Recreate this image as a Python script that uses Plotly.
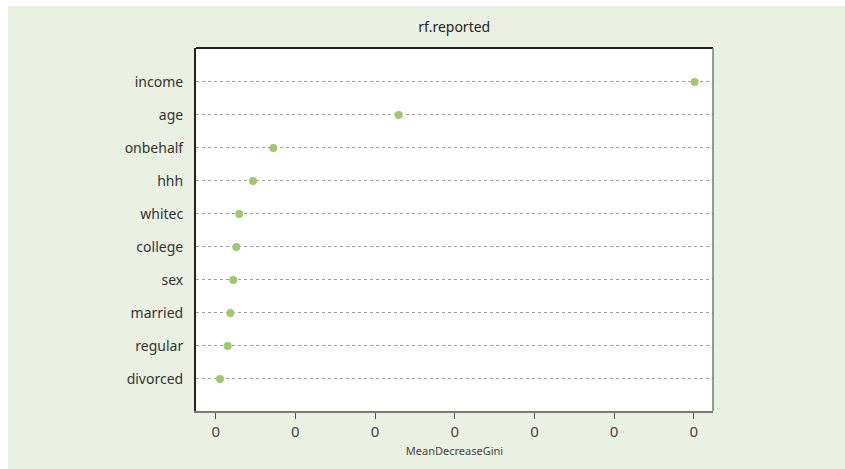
import plotly.graph_objects as go

# Variable importance from the random forest (bottom to top)
variables = ["divorced", "regular", "married", "sex", "college",
             "whitec", "hhh", "onbehalf", "age", "income"]
mean_decrease_gini = [0.000054, 0.000150, 0.000183, 0.000221, 0.000259,
                      0.000296, 0.000468, 0.000723, 0.002296, 0.006010]
x_tickvals = [0, 0.001, 0.002, 0.003, 0.004, 0.005, 0.006]
x_ticktext = ["0", "0", "0", "0", "0", "0", "0"]

BG = "#EAF1E2"
DOT = "#A0C86C"
FONT = "Noto Sans"

fig = go.Figure()
fig.add_trace(go.Scatter(
    x=mean_decrease_gini,
    y=list(range(len(variables))),
    mode="markers",
    marker=dict(color=DOT, size=8, line=dict(width=0)),
    hoverinfo="skip",
    showlegend=False,
))

fig.update_layout(
    width=845, height=469,
    margin=dict(l=196, r=132, t=48, b=58),
    paper_bgcolor=BG,
    plot_bgcolor="white",
    font=dict(family=FONT, color="#333333"),
    title=dict(text="rf.reported", x=0.5376, xanchor="center",
               y=1 - 27 / 469, yanchor="middle",
               font=dict(size=14, color="#222222", family=FONT)),
    xaxis=dict(
        range=[-0.000247, 0.00624],
        tickvals=x_tickvals, ticktext=x_ticktext,
        showgrid=False, zeroline=False,
        showline=True, linecolor="#7a7a7a", linewidth=1.5,
        ticks="outside", ticklen=6, tickcolor="#555555", tickwidth=1,
        tickfont=dict(size=15, color="#444444", family=FONT),
        title=dict(text="MeanDecreaseGini", standoff=8,
                   font=dict(size=11, color="#444444", family=FONT)),
        fixedrange=True,
    ),
    yaxis=dict(
        range=[-0.97, 10.03],
        tickvals=list(range(len(variables))), ticktext=variables,
        showgrid=True, gridcolor="#a0a0a0", gridwidth=1, griddash="dot",
        zeroline=False,
        showline=True, linecolor="#222222", linewidth=2,
        ticks="", ticklabelstandoff=8,
        tickfont=dict(size=14, color="#333333", family=FONT),
        fixedrange=True,
    ),
    shapes=[
        # thin white margin along the top and left of the page
        dict(type="rect", xref="paper", yref="paper",
             x0=-0.40, x1=(8 - 196) / 517, y0=-0.2, y1=1.2,
             fillcolor="white", line=dict(width=0), layer="below"),
        dict(type="rect", xref="paper", yref="paper",
             x0=-0.40, x1=1.3, y0=(411 - 6) / 363, y1=1.2,
             fillcolor="white", line=dict(width=0), layer="below"),
        # frame: dark top edge, grey right edge
        dict(type="line", xref="paper", yref="paper",
             x0=0, x1=1, y0=1, y1=1,
             line=dict(color="#222222", width=2), layer="above"),
        dict(type="line", xref="paper", yref="paper",
             x0=1, x1=1, y0=0, y1=1,
             line=dict(color="#7a7a7a", width=1.5), layer="above"),
    ],
)

fig.write_html("out.html")
